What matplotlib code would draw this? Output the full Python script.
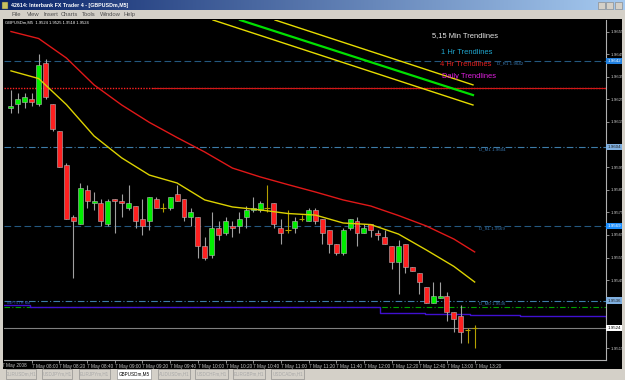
import numpy as np
import matplotlib.pyplot as plt
from matplotlib.patches import Rectangle
from matplotlib.colors import LinearSegmentedColormap

plt.rcParams['font.family'] = ['Liberation Sans', 'DejaVu Sans']

# GBPUSDm M5, 7 May 2008, bars 07:45 .. 13:20
bar_open = [1.9621, 1.9623, 1.9624, 1.9625, 1.9623, 1.9641, 1.9623, 1.9611, 1.9596, 1.9573,
            1.9570, 1.9585, 1.9579, 1.9579, 1.9570, 1.9581, 1.9580, 1.9577, 1.9578, 1.9572,
            1.9571, 1.9581, 1.9577, 1.9577, 1.9583, 1.9581, 1.9573, 1.9573, 1.9560, 1.9556,
            1.9568, 1.9566, 1.9569, 1.9569, 1.9573, 1.9576, 1.9576, 1.9577, 1.9579, 1.9568,
            1.9567, 1.9568, 1.9572, 1.9571, 1.9576, 1.9572, 1.9567, 1.9561, 1.9557, 1.9568,
            1.9571, 1.9566, 1.9570, 1.9566, 1.9564, 1.9560, 1.9553, 1.9561, 1.9551, 1.9548,
            1.9542, 1.9535, 1.9537, 1.9538, 1.9531, 1.9529, 1.9523, 1.9524]
bar_high = [1.9629, 1.9628, 1.9628, 1.9628, 1.9645, 1.9643, 1.9623, 1.9611, 1.9597, 1.9574,
            1.9588, 1.9587, 1.9584, 1.9581, 1.9581, 1.9581, 1.9583, 1.9587, 1.9578, 1.9581,
            1.9582, 1.9582, 1.9579, 1.9582, 1.9587, 1.9581, 1.9577, 1.9573, 1.9564, 1.9575,
            1.9571, 1.9573, 1.9571, 1.9575, 1.9578, 1.9582, 1.9580, 1.9587, 1.9579, 1.9572,
            1.9576, 1.9573, 1.9574, 1.9577, 1.9577, 1.9572, 1.9567, 1.9561, 1.9568, 1.9572,
            1.9573, 1.9570, 1.9570, 1.9567, 1.9567, 1.9560, 1.9563, 1.9561, 1.9551, 1.9548,
            1.9542, 1.9544, 1.9544, 1.9540, 1.9531, 1.9534, 1.9524, 1.9525]
bar_low = [1.9619, 1.9619, 1.9621, 1.9622, 1.9622, 1.9625, 1.9611, 1.9595, 1.9572, 1.9546,
           1.9570, 1.9577, 1.9576, 1.9569, 1.9569, 1.9566, 1.9573, 1.9576, 1.9568, 1.9565,
           1.9567, 1.9577, 1.9575, 1.9576, 1.9580, 1.9571, 1.9569, 1.9555, 1.9554, 1.9555,
           1.9563, 1.9565, 1.9564, 1.9566, 1.9568, 1.9575, 1.9575, 1.9575, 1.9568, 1.9561,
           1.9566, 1.9566, 1.9571, 1.9571, 1.9570, 1.9561, 1.9557, 1.9556, 1.9556, 1.9567,
           1.9560, 1.9566, 1.9564, 1.9563, 1.9561, 1.9550, 1.9539, 1.9548, 1.9549, 1.9539,
           1.9535, 1.9535, 1.9537, 1.9527, 1.9522, 1.9517, 1.9517, 1.9515]
bar_close = [1.9622, 1.9625, 1.9626, 1.9624, 1.9640, 1.9626, 1.9612, 1.9595, 1.9572, 1.9571,
             1.9586, 1.9580, 1.9580, 1.9571, 1.9580, 1.9580, 1.9579, 1.9579, 1.9571, 1.9569,
             1.9582, 1.9577, 1.9577, 1.9582, 1.9580, 1.9573, 1.9575, 1.9560, 1.9555, 1.9568,
             1.9565, 1.9571, 1.9568, 1.9572, 1.9576, 1.9577, 1.9579, 1.9577, 1.9570, 1.9566,
             1.9567, 1.9571, 1.9572, 1.9576, 1.9571, 1.9566, 1.9561, 1.9557, 1.9567, 1.9572,
             1.9566, 1.9568, 1.9567, 1.9565, 1.9561, 1.9553, 1.9560, 1.9551, 1.9549, 1.9544,
             1.9535, 1.9538, 1.9538, 1.9531, 1.9528, 1.9522, 1.9523, 1.9524]

# moving averages read every 4 bars
ma_bars = [0, 4, 8, 12, 16, 20, 24, 28, 32, 36, 40, 44, 48, 52, 56, 60, 64, 67]
ma_slow = [1.96550, 1.96519, 1.96433, 1.96314, 1.96225, 1.96148, 1.96081, 1.96017, 1.95946,
           1.95907, 1.95873, 1.95840, 1.95805, 1.95778, 1.95736, 1.95690, 1.95632, 1.95575]
ma_fast = [1.96376, 1.96342, 1.96227, 1.96088, 1.95991, 1.95915, 1.95880, 1.95805, 1.95774,
           1.95761, 1.95745, 1.95738, 1.95703, 1.95696, 1.95654, 1.95584, 1.95511, 1.95442]

# trendlines (bar, price) start / end
trend_x = [(38.15, 66.76), (33.09, 66.76), (29.19, 66.76)]
trend_y = [(1.96601, 1.96314), (1.96601, 1.96269), (1.96601, 1.96225)]
trend_colors = ['#e6dc00', '#00e000', '#e6dc00']
trend_widths = [1.0, 1.6, 1.0]

# pivot levels
pivot_names = ['D_R1', 'D_M1', 'D_S1', 'D_M0']
pivot_prices = [1.9642, 1.9604, 1.9569, 1.9536]
pivot_label_x = [70.3, 67.6, 67.6, 67.6]
pivot_styles = [(0, (6, 3)), (0, (6, 2, 1, 2)), (0, (6, 3)), (0, (6, 2, 1, 2))]
pivot_colors = ['#24577e', '#3d7ca8', '#24577e', '#3d7ca8']
red_level = 1.9630
green_level = 1.9533
bid_price = 1.9524

purple_x = [-1.0, 2.75, 53.3, 59.8, 66.3, 73.6, 86.0]
purple_y = [1.95340, 1.95331, 1.95305, 1.95300, 1.95296, 1.95292, 1.95283]

price_ticks = [1.9655, 1.9645, 1.9635, 1.9625, 1.9615, 1.9595, 1.9585, 1.9575,
               1.9565, 1.9555, 1.9545, 1.9515]
time_bars = [3, 7, 11, 15, 19, 23, 27, 31, 35, 39, 43, 47, 51, 55, 59, 63, 67]
time_labels = ['7 May 08:00', '7 May 08:20', '7 May 08:40', '7 May 09:00', '7 May 09:20',
               '7 May 09:40', '7 May 10:00', '7 May 10:20', '7 May 10:40', '7 May 11:00',
               '7 May 11:20', '7 May 11:40', '7 May 12:00', '7 May 12:20', '7 May 12:40',
               '7 May 13:00', '7 May 13:20']

W, H = 625, 380
fig = plt.figure(figsize=(W / 100, H / 100), dpi=100, facecolor='#d4d0c8')


def fx(px):
    return px / W


def fy(py):
    return 1 - py / H


# black chart window
fig.patches.append(Rectangle((fx(3), fy(369)), fx(619), 350 / H, transform=fig.transFigure,
                             facecolor='black', edgecolor='none', zorder=-10))

# title bar gradient
tb = fig.add_axes([0, fy(10), 1, 10 / H])
grad = np.linspace(0, 1, 256).reshape(1, -1)
cm = LinearSegmentedColormap.from_list('tb', ['#0a246a', '#a6caf0'])
tb.imshow(grad, aspect='auto', cmap=cm, extent=(0, 1, 0, 1))
tb.axis('off')
fig.patches.append(Rectangle((fx(2), fy(8.5)), fx(6), 6 / H, transform=fig.transFigure,
                             facecolor='#c8c060', edgecolor='#404040', lw=0.3, zorder=3))
fig.text(fx(11), fy(5), '42614: Interbank FX Trader 4 - [GBPUSDm,M5]', color='white',
         fontsize=3.8, fontweight='bold', va='center', ha='left')
for bx in [598, 606, 615]:
    fig.patches.append(Rectangle((fx(bx), fy(9)), fx(7), 7 / H, transform=fig.transFigure,
                                 facecolor='#d4d0c8', edgecolor='#808080', lw=0.4, zorder=3))

# menu
menu = [('File', 12), ('View', 27), ('Insert', 44), ('Charts', 61), ('Tools', 82),
        ('Window', 100), ('Help', 123)]
for name, px in menu:
    fig.text(fx(px), fy(14.5), name, color='#505050', fontsize=4.2, va='center', ha='left')

# main chart
ax = fig.add_axes([fx(4), fy(360), fx(602), 340 / H])
ax.set_facecolor('black')
ax.set_xlim(-1.01, 85.98)
ax.set_ylim(1.95097, 1.96601)

idx = np.arange(len(bar_open))
o = np.array(bar_open)
c = np.array(bar_close)
hi = np.array(bar_high)
lo = np.array(bar_low)

# levels
for name, p, lx, ls, col in zip(pivot_names, pivot_prices, pivot_label_x, pivot_styles, pivot_colors):
    ax.axhline(p, color=col, lw=0.8, ls=ls, zorder=1)
    ax.text(lx, p - 0.00003, f'{name} {p:.4f}', color='#3a78b0', fontsize=3.2,
            va='top', ha='left', zorder=1.5)
ax.axhline(red_level, color='#ff2020', lw=1.0, ls=(0, (1, 1)), zorder=1)
ax.plot([20.5, 86], [red_level, red_level], color='#d01818', lw=0.8, zorder=1)
ax.axhline(green_level, color='#00a000', lw=0.8, ls=(0, (5, 2, 1, 2)), zorder=1)
ax.axhline(bid_price, color='#808080', lw=0.8, zorder=1)
ax.plot(purple_x, purple_y, color='#4010d0', lw=1.0, drawstyle='steps-post', zorder=1)
ax.text(-0.6, purple_y[0] + 0.00002, '#4FT5TH Mo', color='#4060d0', fontsize=2.8,
        ha='left', va='bottom', zorder=1.5)

# candles
doji = o == c
bull = c > o
bear = c < o
ax.vlines(idx[~doji], lo[~doji], hi[~doji], color='#a0a0a0', lw=0.8, zorder=2)
ax.bar(idx[bull], (c - o)[bull], bottom=o[bull], width=0.72, color='#00ee00',
       edgecolor='#b8b8b8', lw=0.4, zorder=3)
ax.bar(idx[bear], (o - c)[bear], bottom=c[bear], width=0.72, color='#ff2020',
       edgecolor='#b8b8b8', lw=0.4, zorder=3)
ax.vlines(idx[doji], lo[doji], hi[doji], color='#b4a000', lw=0.8, zorder=3)
ax.hlines(c[doji], idx[doji] - 0.4, idx[doji] + 0.4, color='#b4a000', lw=0.8, zorder=3)

# moving averages
ax.plot(ma_bars, ma_slow, color='#e01818', lw=1.0, zorder=4)
ax.plot(ma_bars, ma_fast, color='#dcd200', lw=1.0, zorder=4)

# trendlines
for tx, ty, col, lw in zip(trend_x, trend_y, trend_colors, trend_widths):
    ax.plot(tx, ty, color=col, lw=lw, zorder=5)

# axes styling
for s in ['top', 'left']:
    ax.spines[s].set_visible(False)
for s in ['right', 'bottom']:
    ax.spines[s].set_color('#b0b0b0')
    ax.spines[s].set_linewidth(0.8)
ax.yaxis.tick_right()
ax.set_yticks(price_ticks)
ax.set_yticklabels([f'{p:.4f}' for p in price_ticks])
ax.tick_params(axis='y', colors='#c8c8c8', labelsize=3.2, length=2, width=0.5, pad=1.0)
ax.set_xticks(time_bars)
ax.set_xticklabels(time_labels, ha='left')
ax.tick_params(axis='x', colors='#c8c8c8', labelsize=3.4, length=2, width=0.5, pad=1.0)
fig.text(fx(2), fy(365), '7 May 2008', color='#c8c8c8', fontsize=3.4, ha='left', va='center')

# highlighted price labels
hl = [(1.9642, '#2080e0', 'white'), (1.9604, '#80b0e0', '#202020'),
      (1.9569, '#1e90ff', 'white'), (1.9536, '#80b0e0', '#202020'), (bid_price, 'white', 'black')]
for p, bg, fg in hl:
    ax.text(86.2, p, f'{p:.4f}', color=fg, fontsize=3.2, ha='left', va='center', clip_on=False,
            bbox=dict(boxstyle='square,pad=0.25', fc=bg, ec='none'), zorder=6)

# header and trendline legend
fig.text(fx(5), fy(23), 'GBPUSDm,M5  1.9524 1.9525 1.9518 1.9524', color='white',
         fontsize=3.0, va='center', ha='left')
fig.text(fx(432), fy(36), '5,15 Min Trendlines', color='#e8e8e8', fontsize=5.4, va='center')
fig.text(fx(441), fy(53), '1 Hr Trendlines', color='#20a8d0', fontsize=5.4, va='center')
fig.text(fx(440), fy(65), '4 Hr Trendlines', color='#e02020', fontsize=5.4, va='center')
fig.text(fx(442), fy(77), 'Daily Trendlines', color='#e020e0', fontsize=5.4, va='center')

# tabs
tabs = [('EURUSDm,H1', 6, 36), ('USDJPYm,H1', 42, 72), ('EURJPYm,H1', 79, 110),
        ('GBPUSDm,M5', 117, 151), ('AUDUSDm,H1', 158, 190), ('USDCHFm,H1', 195, 228),
        ('EURGBPm,H1', 233, 265), ('USDCADm,H1', 271, 304)]
for name, x0, x1 in tabs:
    active = name == 'GBPUSDm,M5'
    fig.patches.append(Rectangle((fx(x0), fy(379)), fx(x1 - x0), 10 / H,
                                 transform=fig.transFigure,
                                 facecolor='white' if active else '#d4d0c8',
                                 edgecolor='#808080', lw=0.4, zorder=2))
    fig.text(fx((x0 + x1) / 2), fy(374), name, color='black' if active else '#a8a8a8',
             fontsize=3.3, ha='center', va='center', zorder=3)

fig.savefig('out.png', dpi=100, facecolor=fig.get_facecolor())
